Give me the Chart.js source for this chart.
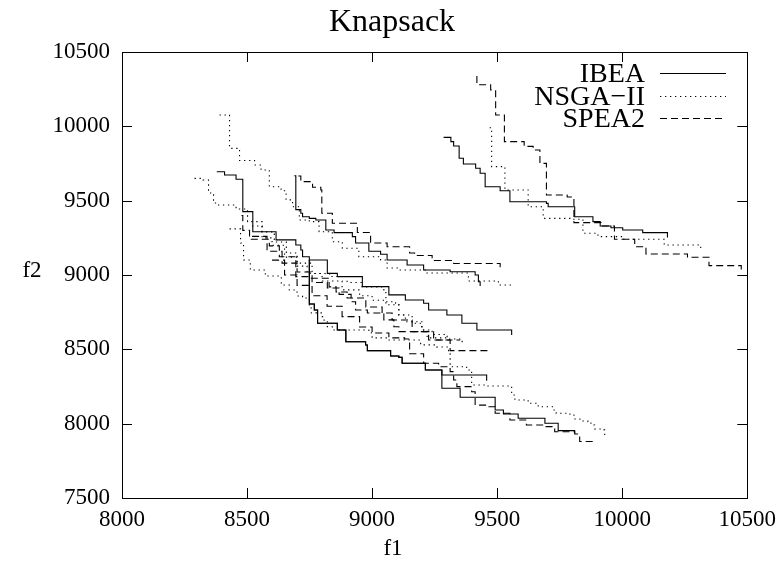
<!DOCTYPE html>
<html>
<head>
<meta charset="utf-8">
<script src="https://cdn.jsdelivr.net/npm/chart.js@4/dist/chart.umd.min.js"></script>
<style>
html,body{margin:0;padding:0;background:#fff;}
canvas{display:block;}
</style>
</head>
<body>
<canvas id="c" width="784" height="563"></canvas>
<script>
// ---- data: Pareto fronts [f1, f2] ----
const xTicks = [8000, 8500, 9000, 9500, 10000, 10500];
const yTicks = [7500, 8000, 8500, 9000, 9500, 10000, 10500];
const seriesNames = ['IBEA', 'NSGA\u2212II', 'SPEA2'];

const ibea1 = [[9286,9926],[9315,9897],[9326,9868],[9348,9845],[9348,9785],[9365,9747],[9414,9718],[9432,9684],[9452,9594],[9512,9567],[9551,9493],[9697,9482],[9704,9459],[9810,9392],[9883,9359],[9912,9330],[9955,9318],[10002,9303],[10082,9285],[10181,9280],[10181,9253]];
const ibea2 = [[8689,9668],[8695,9440],[8715,9415],[8722,9392],[8749,9381],[8775,9370],[8815,9303],[8848,9285],[8921,9258],[8934,9215],[8987,9160],[9034,9140],[9060,9101],[9140,9067],[9206,9034],[9312,9022],[9412,9000],[9425,8955],[9432,8926]];
const ibea3 = [[8379,9695],[8410,9673],[8456,9644],[8483,9426],[8523,9291],[8616,9236],[8695,9202],[8715,9168],[8722,9123],[8749,9101],[8821,9011],[8861,8989],[8961,8922],[9067,8866],[9133,8832],[9206,8810],[9226,8765],[9299,8731],[9359,8675],[9419,8630],[9558,8596]];
const ibea4 = [[8749,9101],[8749,8805],[8769,8765],[8782,8675],[8861,8630],[8895,8551],[8974,8529],[8981,8491],[9074,8455],[9107,8446],[9120,8406],[9213,8361],[9279,8327],[9458,8289]];
const ibea5 = [[8749,9101],[8749,8805],[8769,8765],[8782,8675],[8861,8630],[8895,8551],[8974,8529],[8981,8491],[9074,8455],[9107,8446],[9120,8406],[9213,8361],[9279,8238],[9352,8178],[9492,8092],[9525,8065],[9584,8036],[9691,8003],[9744,7953],[9810,7935]];

const nsga1 = [[9470,9990],[9478,9729],[9531,9572],[9624,9459],[9684,9381],[9800,9375],[9843,9281],[9903,9258],[10000,9240],[10168,9202],[10314,9173]];
const nsga2 = [[8390,10076],[8430,9852],[8470,9770],[8530,9740],[8556,9706],[8589,9594],[8636,9567],[8656,9505],[8682,9459],[8709,9370],[8749,9359],[8788,9291],[8841,9224],[8881,9180],[8947,9123],[9034,9101],[9060,9047],[9107,9034],[9213,9013],[9385,8960],[9505,8933],[9557,8913]];
const nsga3 = [[8290,9650],[8324,9639],[8346,9552],[8366,9484],[8383,9471],[8456,9444],[8502,9359],[8560,9290],[8609,9222],[8657,9148],[8700,9080],[8760,9010],[8830,8990],[8900,8950],[8960,8920],[9047,8900],[9055,8820],[9094,8810],[9107,8731],[9133,8686],[9199,8630],[9220,8577],[9300,8560]];
const nsga4 = [[8430,9310],[8474,9215],[8486,9101],[8513,9034],[8573,8993],[8637,8933],[8669,8899],[8700,8859],[8722,8845],[8749,8778],[8757,8745],[8800,8720],[8808,8686],[8821,8652],[8841,8630],[8987,8612],[9000,8577],[9060,8563],[9194,8530],[9258,8516],[9306,8482],[9312,8383],[9378,8361],[9398,8260],[9452,8253],[9558,8193],[9571,8159],[9624,8137],[9664,8114],[9724,8092],[9736,8070],[9791,8058],[9807,8031],[9831,8018],[9863,8013],[9875,7991],[9890,7964],[9923,7958],[9930,7924]];
const nsga5 = [[8520,9330],[8560,9250],[8600,9200],[8650,9120],[8700,9060],[8740,9010],[8800,8960],[8880,8900],[8950,8860],[9000,8830],[9055,8800],[9107,8731],[9160,8675],[9199,8630],[9240,8600],[9300,8570],[9360,8540]];

const spea1 = [[9419,10339],[9419,10280],[9474,10244],[9494,10076],[9529,9897],[9608,9865],[9644,9841],[9671,9751],[9697,9538],[9780,9525],[9807,9352],[9915,9330],[9969,9240],[10050,9190],[10095,9141],[10261,9119],[10347,9063],[10476,9022],[10476,9010]];
const spea2 = [[8705,9666],[8715,9628],[8762,9590],[8795,9572],[8799,9415],[8841,9348],[8941,9286],[8994,9215],[9060,9190],[9150,9148],[9170,9131],[9240,9098],[9326,9077],[9512,9038]];
const spea3 = [[8478,9400],[8483,9300],[8510,9240],[8589,9196],[8629,9123],[8695,8989],[8749,8978],[8828,8920],[8856,8886],[8900,8845],[8975,8785],[9040,8744],[9080,8697],[9160,8619],[9246,8563],[9312,8491],[9472,8491]];
const spea4 = [[8520,9260],[8580,9160],[8640,9080],[8700,9020],[8760,8950],[8821,8913],[8868,8870],[8916,8820],[8934,8765],[8981,8744],[9047,8698],[9087,8652],[9107,8619],[9226,8563],[9352,8563]];
const spea5 = [[8600,9100],[8650,9000],[8700,8930],[8760,8860],[8820,8790],[8880,8720],[8950,8650],[9000,8610],[9067,8577],[9130,8570],[9150,8470],[9206,8406],[9266,8383],[9312,8350],[9326,8294],[9339,8249],[9398,8215],[9412,8125],[9458,8114],[9492,8070],[9551,8025],[9617,7991],[9690,7980],[9730,7946],[9810,7930],[9830,7880],[9883,7880]];

// ---- styles ----
const FONT = "'Liberation Serif', 'Times New Roman', serif";
const LINE_COLOR = '#000';
const styles = [
  { dash: [] },
  { dash: [1.3, 3.7] },
  { dash: [7, 4] }
];
const groups = [
  [ibea1, ibea2, ibea3, ibea4, ibea5],
  [nsga1, nsga2, nsga3, nsga4, nsga5],
  [spea1, spea2, spea3, spea4, spea5]
];

const datasets = [];
groups.forEach((runs, gi) => {
  runs.forEach((run, ri) => {
    datasets.push({
      label: seriesNames[gi] + ' ' + (ri + 1),
      data: run.map(p => ({ x: p[0], y: p[1] })),
      showLine: true,
      stepped: 'before',
      borderColor: LINE_COLOR,
      borderWidth: 1.1,
      borderDash: styles[gi].dash,
      pointRadius: 0,
      fill: false
    });
  });
});

const decor = {
  id: 'decor',
  afterDraw(chart) {
    const { ctx, chartArea: a, scales } = chart;
    ctx.save();
    // frame
    ctx.strokeStyle = '#000';
    ctx.lineWidth = 1;
    ctx.setLineDash([]);
    ctx.strokeRect(Math.round(a.left) + 0.5, Math.round(a.top) + 0.5, Math.round(a.right - a.left), Math.round(a.bottom - a.top));
    // inward ticks on all sides
    const TL = 10;
    ctx.beginPath();
    xTicks.forEach(v => {
      const px = Math.round(scales.x.getPixelForValue(v)) + 0.5;
      ctx.moveTo(px, a.bottom); ctx.lineTo(px, a.bottom - TL);
      ctx.moveTo(px, a.top); ctx.lineTo(px, a.top + TL);
    });
    yTicks.forEach(v => {
      const py = Math.round(scales.y.getPixelForValue(v)) + 0.5;
      ctx.moveTo(a.left, py); ctx.lineTo(a.left + TL, py);
      ctx.moveTo(a.right, py); ctx.lineTo(a.right - TL, py);
    });
    ctx.stroke();
    // title & axis labels
    ctx.fillStyle = '#000';
    ctx.textAlign = 'center';
    ctx.textBaseline = 'middle';
    ctx.font = '32px ' + FONT;
    ctx.fillText('Knapsack', 392, 23);
    ctx.font = '23px ' + FONT;
    ctx.fillText('f1', 393, 549);
    ctx.fillText('f2', 32, 271);
    // legend
    const rows = [74, 97, 119];
    ctx.font = '28px ' + FONT;
    ctx.textAlign = 'right';
    seriesNames.forEach((name, i) => {
      ctx.fillText(name, 645, rows[i] + 1);
      ctx.beginPath();
      ctx.setLineDash(styles[i].dash);
      ctx.lineWidth = 1.1;
      ctx.moveTo(660, rows[i] - 0.5);
      ctx.lineTo(726, rows[i] - 0.5);
      ctx.stroke();
    });
    ctx.restore();
  }
};

new Chart(document.getElementById('c'), {
  type: 'scatter',
  data: { datasets },
  options: {
    responsive: false,
    animation: false,
    events: [],
    layout: { padding: { top: 52, right: 34, bottom: 0, left: 0 } },
    plugins: { legend: { display: false }, tooltip: { enabled: false }, title: { display: false } },
    scales: {
      x: {
        type: 'linear', min: 8000, max: 10500,
        afterBuildTicks(s) { s.ticks = xTicks.map(v => ({ value: v })); },
        ticks: { font: { family: FONT, size: 23 }, color: '#000', padding: 8, maxRotation: 0, autoSkip: false, callback: v => String(v) },
        grid: { display: false, drawTicks: false },
        border: { display: false },
        afterFit(s) { s.height = 65; }
      },
      y: {
        type: 'linear', min: 7500, max: 10500,
        afterBuildTicks(s) { s.ticks = yTicks.map(v => ({ value: v })); },
        ticks: { font: { family: FONT, size: 23 }, color: '#000', padding: 12, autoSkip: false, callback: v => String(v) },
        grid: { display: false, drawTicks: false },
        border: { display: false },
        afterFit(s) { s.width = 122; }
      }
    }
  },
  plugins: [decor]
});
</script>
</body>
</html>
